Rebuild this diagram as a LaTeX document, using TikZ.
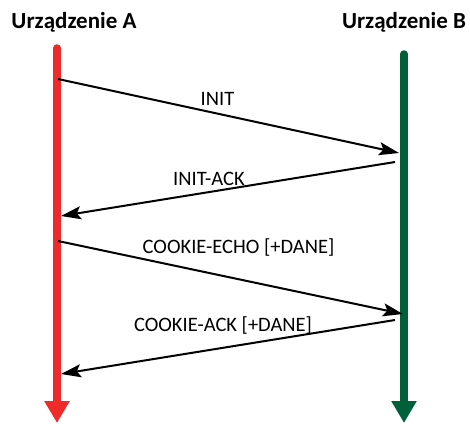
\documentclass[tikz,border=0pt]{standalone}
\usepackage{fontspec}
\setmainfont{Carlito}
\usetikzlibrary{arrows.meta}
\definecolor{devA}{HTML}{EE2A2A}
\definecolor{devB}{HTML}{00603A}
\begin{document}
\begin{tikzpicture}[x=1pt,y=-1pt,
  title/.style={font=\bfseries\fontsize{23}{27}\selectfont, inner sep=0pt, anchor=base},
  life/.style={line width=7.5pt, line cap=round, -{Triangle[length=22pt,width=24pt]}},
  msg/.style={line width=2pt, -{Stealth[length=20pt,width=13pt,inset=4pt]}},
  lbl/.style={font=\fontsize{20.5}{24}\selectfont, inner sep=0pt, anchor=base}]
\useasboundingbox (0,0) rectangle (470,423);
\node[title] (tA) at (74,28.5) {Urządzenie A};
\node[title] (tB) at (404,28.5) {Urządzenie B};
\coordinate (a0) at (57,48);
\coordinate (a1) at (57,423);
\coordinate (b0) at (404,54);
\coordinate (b1) at (404,423);
\draw[life, devA] (a0) -- (a1);
\draw[life, devB] (b0) -- (b1);
\coordinate (m1s) at (58,79);
\coordinate (m1e) at (399,153);
\coordinate (m2s) at (395,162);
\coordinate (m2e) at (61,216);
\coordinate (m3s) at (58,241);
\coordinate (m3e) at (403,314);
\coordinate (m4s) at (395,320);
\coordinate (m4e) at (61,374);
\draw[msg] (m1s) -- (m1e);
\draw[msg] (m2s) -- (m2e);
\draw[msg] (m3s) -- (m3e);
\draw[msg] (m4s) -- (m4e);
\node[lbl] (l1) at (217.5,105) {INIT};
\node[lbl] (l2) at (209,185) {INIT-ACK};
\node[lbl] (l3) at (238.5,253) {COOKIE-ECHO [+DANE]};
\node[lbl] (l4) at (223,331) {COOKIE-ACK [+DANE]};
\end{tikzpicture}
\end{document}
